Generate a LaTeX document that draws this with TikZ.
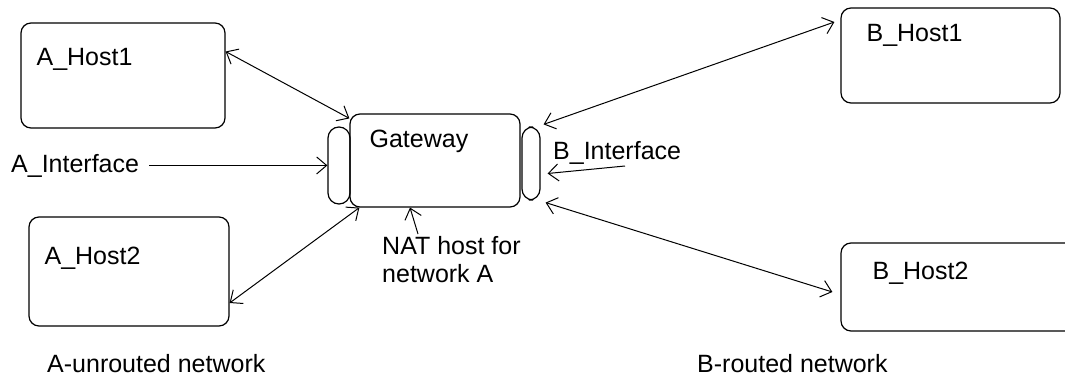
\documentclass[tikz,border=0pt]{standalone}
\usepackage{fontspec}
\setmainfont{Liberation Sans}
\usetikzlibrary{arrows.meta, positioning, calc}

\begin{document}
\begin{tikzpicture}[
    x=1pt, y=-1pt,
    >={Straight Barb[length=10pt,width=17pt]},
    font=\fontsize{25}{28}\selectfont,
    host/.style={draw, line width=1.2pt, rectangle, rounded corners=10pt, inner sep=0pt},
    hostlabel/.style={anchor=north west, inner sep=0pt},
    iface/.style={draw, line width=1.2pt, rectangle, rounded corners=11pt, inner sep=0pt},
    conn/.style={line width=1pt},
]
\useasboundingbox (0,0) rectangle (1065,377);

% === Network A hosts ===
\node[host, minimum width=204pt, minimum height=105pt,
      label={[hostlabel, xshift=16pt, yshift=-26pt]north west:A\_Host1}]
     (ah1) at (123, 75.5) {};
\node[host, minimum width=200pt, minimum height=109pt,
      label={[hostlabel, xshift=16pt, yshift=-30pt]north west:A\_Host2}]
     (ah2) at (129, 271.5) {};

% === Gateway with interfaces ===
\node[host, minimum width=170pt, minimum height=93pt,
      label={[hostlabel, xshift=20pt, yshift=-16pt]north west:Gateway}]
     (gw) at (435, 160.5) {};
\node[iface, minimum width=22pt, minimum height=77pt] (ifa) at (339, 165.5) {};
\node[iface, minimum width=18pt, minimum height=73pt] (ifb) at (531, 163.5) {};

% === Network B hosts ===
\node[host, minimum width=219pt, minimum height=95pt,
      label={[hostlabel, xshift=26pt, yshift=-17pt]north west:B\_Host1}]
     (bh1) at (950.5, 55.5) {};
\node[host, minimum width=244pt, minimum height=88pt,
      label={[hostlabel, xshift=32pt, yshift=-19pt]north west:B\_Host2}]
     (bh2) at (963, 287) {};

% === Annotations ===
\node[anchor=base west, inner sep=0pt] (aif) at (11, 172) {A\_Interface};
\node[anchor=base west, inner sep=0pt] (bif) at (553, 160) {B\_Interface};
\coordinate (bin) at (625, 166);
\node[anchor=north west, align=left, inner sep=0pt] (nat) at (382, 236)
     {NAT host for\\network A};
\node[anchor=base west, inner sep=0pt] (anet) at (47, 372) {A-unrouted network};
\node[anchor=base west, inner sep=0pt] (bnet) at (697, 372) {B-routed network};

% === Connectors ===
\draw[conn, <->] ([yshift=24pt]ah1.east) -- ([yshift=-5pt]gw.north west);
\draw[conn, <->] ([yshift=-31.5pt]ah2.east) -- ([xshift=10pt]gw.south west);
\draw[conn, <->] ([xshift=3pt,yshift=2pt]ifb.north east) -- ([xshift=-6pt,yshift=33.5pt]bh1.west);
\draw[conn, <->] ([xshift=5pt,yshift=-2pt]ifb.south east) -- ([xshift=-8pt,yshift=-5pt]bh2.west);
\draw[conn, ->] ([xshift=10pt]aif.east) -- (aif.east -| ifa.west);
\draw[conn, ->] (bin) -- ([shift={(7,10)}]ifb.east);
\draw[conn, ->] ([xshift=36pt,yshift=2pt]nat.north west) -- ([xshift=-25pt]gw.south);

\end{tikzpicture}
\end{document}
